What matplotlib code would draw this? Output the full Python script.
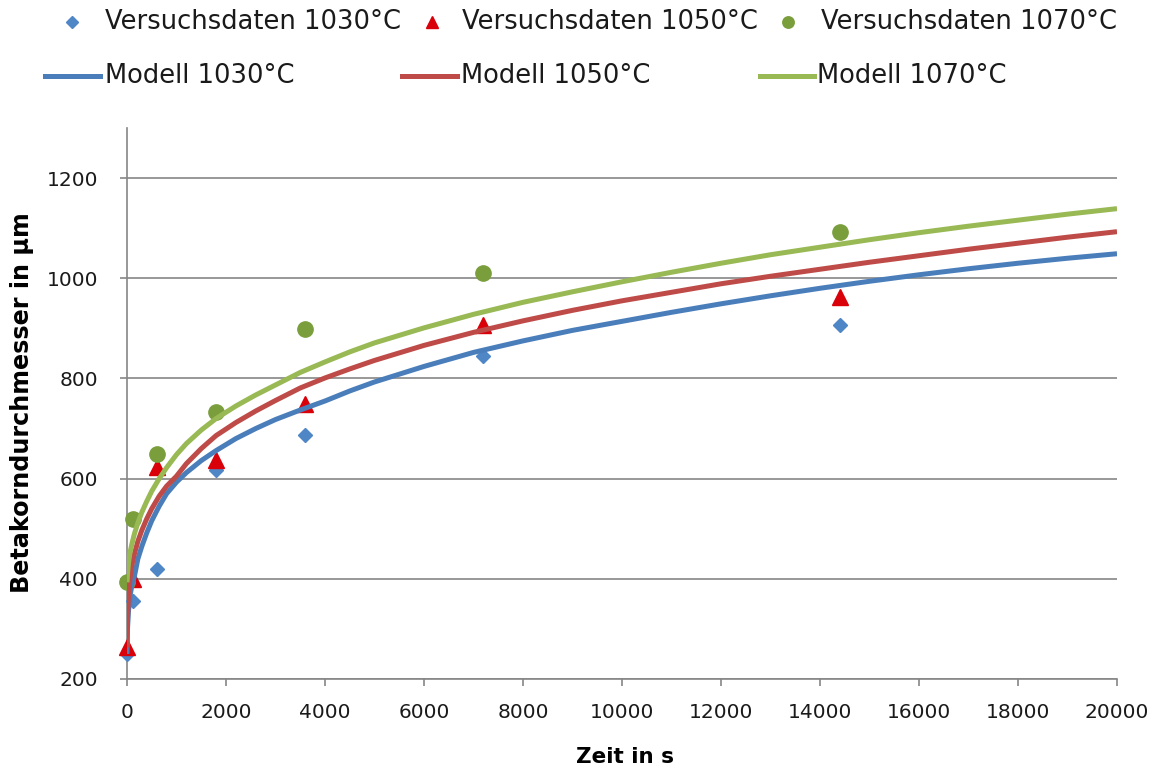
import matplotlib
matplotlib.use("Agg")
import matplotlib.pyplot as plt
from matplotlib.lines import Line2D

plt.rcParams["font.family"] = ["DejaVu Sans"]

# Versuchsdaten (Zeit in s, Durchmesser in µm)
t_meas = [0, 120, 600, 1800, 3600, 7200, 14400]
d_1030 = [250, 355, 420, 618, 687, 845, 907]
d_1050 = [263, 400, 623, 638, 750, 907, 962]
d_1070 = [393, 520, 650, 733, 898, 1011, 1093]

# Modellkurven
t_model = [0, 10, 30, 60, 100, 150, 220, 300, 400, 500, 650, 800, 1000,
           1200, 1500, 1800, 2200, 2600, 3000, 3500, 4000, 4500, 5000,
           6000, 7000, 8000, 9000, 10000, 11000, 12000, 13000, 14000,
           15000, 16000, 17000, 18000, 19000, 20000]
m_1030 = [250, 300, 335, 365, 388, 405, 440, 465, 492, 516, 545, 570, 593,
          612, 636, 656, 680, 700, 718, 737, 755, 775, 793,
          824, 852, 875, 896, 914, 932, 949, 965, 980,
          994, 1007, 1019, 1030, 1040, 1049]
m_1050 = [263, 322, 365, 400, 428, 450, 475, 497, 520, 540, 565, 585, 605,
          630, 660, 686, 712, 735, 756, 781, 801, 819, 836,
          866, 892, 915, 936, 955, 972, 989, 1004, 1018,
          1032, 1045, 1058, 1070, 1082, 1093]
m_1070 = [393, 410, 432, 452, 470, 490, 512, 533, 555, 575, 600, 622, 648,
          670, 697, 720, 745, 767, 787, 812, 833, 853, 871,
          901, 928, 952, 973, 993, 1012, 1030, 1047, 1062,
          1077, 1091, 1104, 1116, 1128, 1139]

x_ticks = list(range(0, 20001, 2000))
y_ticks = list(range(200, 1201, 200))

W, H = 1160, 769
fig = plt.figure(figsize=(W / 100, H / 100), dpi=100)
fig.patch.set_facecolor("white")

# Achsenrahmen in Pixeln: x 127..1117, y 128..679 (von oben)
ax = fig.add_axes([127 / W, (H - 679) / H, 990 / W, (679 - 128) / H])

grid_col = "#868686"
ax.set_xlim(0, 20000)
ax.set_ylim(200, 1300)
ax.set_xticks(x_ticks)
ax.set_yticks(y_ticks)
ax.yaxis.grid(True, color=grid_col, lw=1.2, zorder=0)
ax.set_axisbelow(True)
for side in ("top", "right"):
    ax.spines[side].set_visible(False)
for side in ("left", "bottom"):
    ax.spines[side].set_color(grid_col)
    ax.spines[side].set_linewidth(1.2)
ax.tick_params(axis="both", direction="out", length=5, width=1.2,
               color=grid_col, labelsize=14.5, labelcolor="#1a1a1a")
ax.tick_params(axis="x", pad=12)
ax.tick_params(axis="y", pad=16)

specs = [
    ("1030", d_1030, m_1030, "D", 7.5, "#4F86C6", "#4A7EBB"),
    ("1050", d_1050, m_1050, "^", 11, "#D9000A", "#BE4B48"),
    ("1070", d_1070, m_1070, "o", 11, "#7A9E3C", "#98B954"),
]

for name, d_meas, d_mod, mk, ms, mcol, lcol in specs:
    ax.plot(t_meas, d_meas, linestyle="none", marker=mk, ms=ms,
            color=mcol, zorder=3, clip_on=False)
for name, d_meas, d_mod, mk, ms, mcol, lcol in specs:
    ax.plot(t_model, d_mod, color=lcol, lw=3.6, zorder=4,
            solid_capstyle="butt", solid_joinstyle="round")

ax.set_xlabel("Zeit in s", fontsize=15.5, fontweight="bold", va="center")
ax.xaxis.set_label_coords(0.503, -0.1416)
ax.set_ylabel("Betakorndurchmesser in µm", fontsize=17.2, fontweight="bold",
              va="center")
ax.yaxis.set_label_coords(-0.106, 0.502)


# Legende oben, zwei Zeilen, manuell gesetzt (Pixelkoordinaten)
def fx(px):
    return px / W


def fy(py):
    return 1 - py / H


leg_fs = 18.5
row1_y = 22
row2_y = 76
mk_x = [72, 432, 788]
txt1_x = [105, 462, 821]
for i, (name, d_meas, d_mod, mk, ms, mcol, lcol) in enumerate(specs):
    fig.add_artist(Line2D([fx(mk_x[i])], [fy(row1_y)], marker=mk,
                          ms=ms * 0.75, color=mcol, linestyle="none"))
    fig.text(fx(txt1_x[i]), fy(row1_y), f"Versuchsdaten {name}°C",
             fontsize=leg_fs, va="center", ha="left", color="#1a1a1a")

ln_x = [(45, 100), (402, 457), (760, 814)]
txt2_x = [105, 461, 817]
for i, (name, d_meas, d_mod, mk, ms, mcol, lcol) in enumerate(specs):
    x0, x1 = ln_x[i]
    fig.add_artist(Line2D([fx(x0), fx(x1)], [fy(row2_y), fy(row2_y)],
                          color=lcol, lw=3.6))
    fig.text(fx(txt2_x[i]), fy(row2_y), f"Modell {name}°C",
             fontsize=leg_fs, va="center", ha="left", color="#1a1a1a")

fig.savefig("out.png", dpi=100, facecolor="white")
